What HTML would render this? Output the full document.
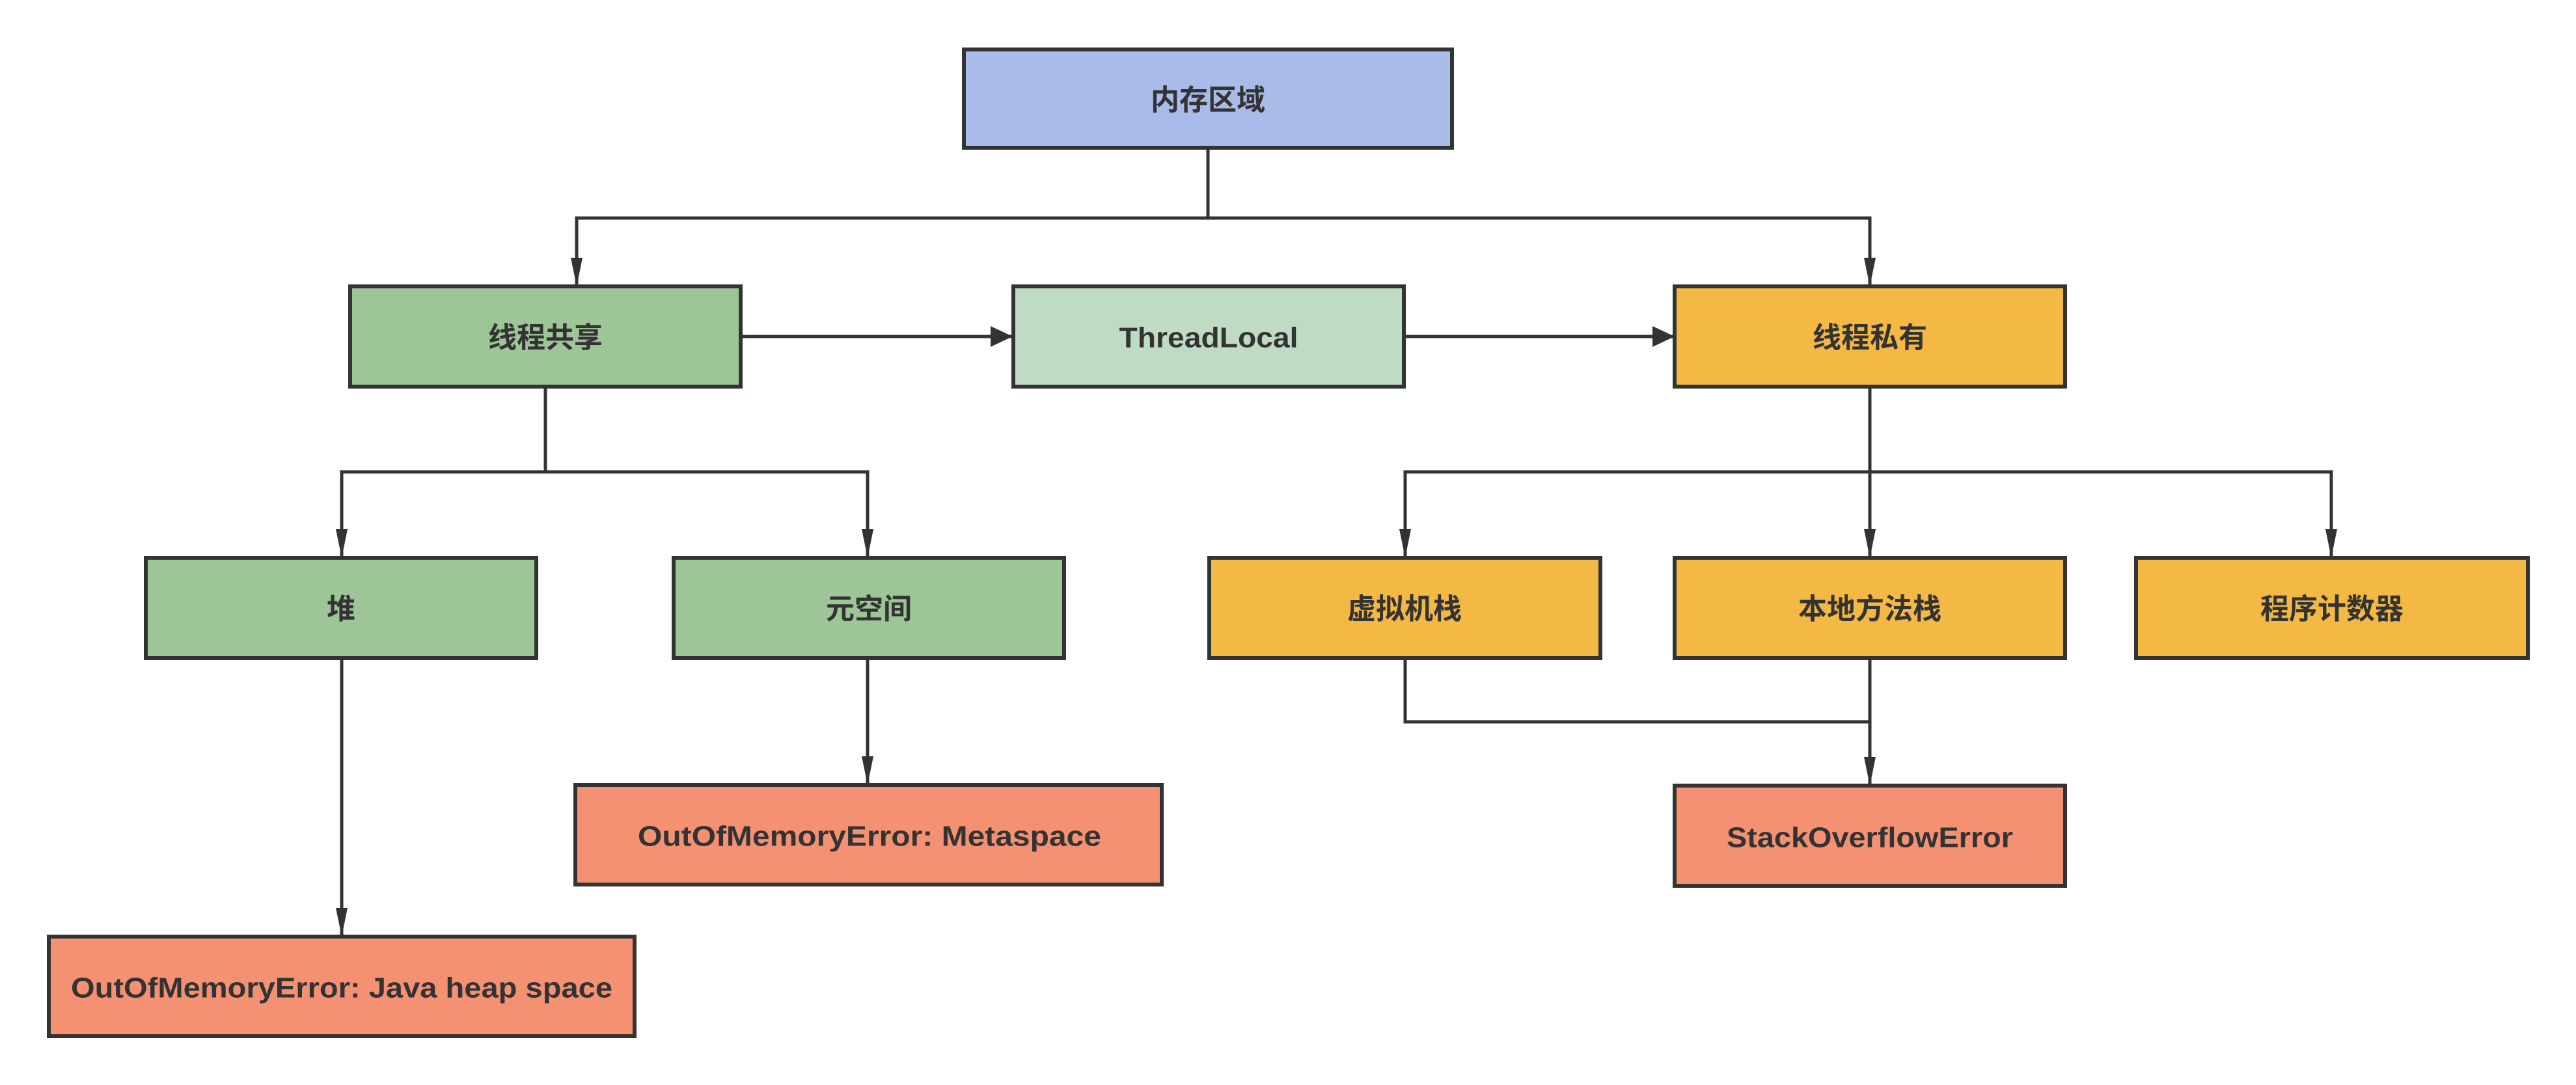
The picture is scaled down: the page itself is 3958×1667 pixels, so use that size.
<!DOCTYPE html>
<html><head><meta charset="utf-8"><style>
html,body{margin:0;padding:0;background:#fff;}
svg{display:block;}
text{font-family:"Liberation Sans","Noto Sans CJK SC",sans-serif;font-weight:bold;font-size:44px;fill:#333;text-anchor:middle;dominant-baseline:central;}
</style></head><body>
<svg width="3958" height="1667" viewBox="0 0 3958 1667" xmlns="http://www.w3.org/2000/svg">
<defs>
<marker id="d" markerWidth="20" markerHeight="44" refX="10" refY="44" orient="0" markerUnits="userSpaceOnUse">
<path d="M1,0 L19,0 L10,44 Z" fill="#333"/></marker>
<marker id="r" markerWidth="34" markerHeight="32" refX="34" refY="16" orient="0" markerUnits="userSpaceOnUse">
<path d="M0,0 L34,16 L0,32 Z" fill="#333"/></marker>
</defs>
<g fill="none" stroke="#333" stroke-width="5">
<path d="M1856,227 V335 H886 V440" marker-end="url(#d)"/>
<path d="M1856,335 H2873 V440" marker-end="url(#d)"/>
<path d="M1139,517 H1556" marker-end="url(#r)"/>
<path d="M2157,517 H2573" marker-end="url(#r)"/>
<path d="M838,594 V725 H525 V857" marker-end="url(#d)"/>
<path d="M838,725 H1333 V857" marker-end="url(#d)"/>
<path d="M2873,594 V725 H2159 V857" marker-end="url(#d)"/>
<path d="M2873,725 V857" marker-end="url(#d)"/>
<path d="M2873,725 H3582 V857" marker-end="url(#d)"/>
<path d="M525,1011 V1439" marker-end="url(#d)"/>
<path d="M1333,1011 V1206" marker-end="url(#d)"/>
<path d="M2159,1011 V1109 H2873"/>
<path d="M2873,1011 V1207" marker-end="url(#d)"/>
</g>
<g stroke="#333" stroke-width="6">
<rect x="1481" y="76" width="750" height="151" fill="#a9bbe8"/>
<rect x="538" y="440" width="600" height="154" fill="#9dc597"/>
<rect x="1557" y="440" width="600" height="154" fill="#bfdbc3"/>
<rect x="2573" y="440" width="600" height="154" fill="#f4b944"/>
<rect x="224" y="857" width="600" height="154" fill="#9dc597"/>
<rect x="1035" y="857" width="600" height="154" fill="#9dc597"/>
<rect x="1858" y="857" width="601" height="154" fill="#f4b944"/>
<rect x="2573" y="857" width="600" height="154" fill="#f4b944"/>
<rect x="3282" y="857" width="602" height="154" fill="#f4b944"/>
<rect x="884" y="1206" width="901" height="153" fill="#f49172"/>
<rect x="2573" y="1207" width="600" height="154" fill="#f49172"/>
<rect x="75" y="1439" width="900" height="153" fill="#f49172"/>
</g>
<text x="1856" y="154">内存区域</text>
<text x="838" y="519">线程共享</text>
<text x="1857" y="519" textLength="275" lengthAdjust="spacingAndGlyphs">ThreadLocal</text>
<text x="2873" y="519">线程私有</text>
<text x="524" y="936">堆</text>
<text x="1335" y="936">元空间</text>
<text x="2158" y="936">虚拟机栈</text>
<text x="2873" y="936">本地方法栈</text>
<text x="3583" y="936">程序计数器</text>
<text x="1336" y="1285" textLength="712" lengthAdjust="spacingAndGlyphs">OutOfMemoryError: Metaspace</text>
<text x="2873" y="1287" textLength="440" lengthAdjust="spacingAndGlyphs">StackOverflowError</text>
<text x="525" y="1518" textLength="832" lengthAdjust="spacingAndGlyphs">OutOfMemoryError: Java heap space</text>
</svg>
</body></html>
